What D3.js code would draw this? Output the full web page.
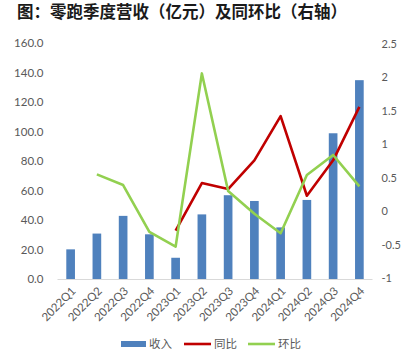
<!DOCTYPE html>
<html><head><meta charset="utf-8">
<script src="https://cdn.jsdelivr.net/npm/d3@7"></script>
<style>body{margin:0;background:#fff}</style>
</head><body>
<svg id="c" width="401" height="355"></svg>
<script>
const categories = ["2022Q1","2022Q2","2022Q3","2022Q4","2023Q1","2023Q2","2023Q3","2023Q4","2024Q1","2024Q2","2024Q3","2024Q4"];
const revenue = [20.1, 30.8, 42.8, 30.3, 14.4, 43.8, 56.8, 52.9, 35.0, 53.6, 98.8, 134.8];
const yoy = [null, null, null, null, -0.29, 0.42, 0.33, 0.76, 1.42, 0.23, 0.76, 1.56];
const qoq = [null, 0.55, 0.39, -0.31, -0.53, 2.06, 0.30, -0.04, -0.33, 0.54, 0.84, 0.37];
const leftTicks = [0,20,40,60,80,100,120,140,160];
const rightTicks = [-1,-0.5,0,0.5,1,1.5,2,2.5];
const legendLabels = ["收入","同比","环比"];

const svg = d3.select("#c");
const font = "'Noto Sans CJK SC', 'Noto Sans', sans-serif";
const tickFont = "Lato, 'Liberation Sans', sans-serif";
const gray = "#595959";
const x0 = 57.5, x1 = 372.5, yTop = 43, yBot = 279;

svg.append("text").attr("x",17).attr("y",17.5).attr("font-family",font)
  .attr("font-size",16.5).attr("font-weight","bold").attr("fill","#1a1a1a")
  .text("图：零跑季度营收（亿元）及同环比（右轴）");

const x = d3.scaleBand().domain(categories).range([x0,x1]).paddingInner(0.67).paddingOuter(0.335);
const xc = d => x(d) + x.bandwidth()/2;
const yL = d3.scaleLinear().domain([0,160]).range([yBot,yTop]);
const yR = d3.scaleLinear().domain([-1,2.5]).range([yBot-1,yTop+1]);

// bars
svg.append("g").selectAll("rect").data(categories).join("rect")
  .attr("x", d=>x(d)).attr("width", x.bandwidth())
  .attr("y",(d,i)=>yL(revenue[i])).attr("height",(d,i)=>yBot-yL(revenue[i]))
  .attr("fill","#4F81BD");

// x axis line
svg.append("line").attr("x1",x0).attr("x2",x1).attr("y1",yBot+0.5).attr("y2",yBot+0.5)
  .attr("stroke","#D9D9D9").attr("stroke-width",1);

// left axis
const la = svg.append("g").attr("transform",`translate(${x0},0)`)
  .call(d3.axisLeft(yL).tickValues(leftTicks).tickFormat(d3.format(".1f")).tickSize(0).tickPadding(14));
la.select(".domain").remove();
la.selectAll("text").attr("font-family",tickFont).attr("font-size",11.5).attr("fill",gray);

// right axis
const ra = svg.append("g").attr("transform",`translate(${x1},0)`)
  .call(d3.axisRight(yR).tickValues(rightTicks).tickFormat(d=>String(d)).tickSize(0).tickPadding(9));
ra.select(".domain").remove();
ra.selectAll("text").attr("font-family",tickFont).attr("font-size",11).attr("fill",gray);

// x labels
svg.append("g").selectAll("text").data(categories).join("text")
  .attr("transform", d=>`translate(${xc(d)+3},${yBot+10}) rotate(-45)`)
  .attr("text-anchor","end").attr("dy","0.35em")
  .attr("font-family",tickFont).attr("font-size",11.5).attr("fill",gray)
  .text(d=>d);

// lines
const line = d3.line().defined(d=>d[1]!==null).x(d=>xc(d[0])).y(d=>yR(d[1]));
svg.append("path").datum(categories.map((c,i)=>[c,yoy[i]])).attr("d",line)
  .attr("fill","none").attr("stroke","#C00000").attr("stroke-width",2.6).attr("stroke-linejoin","round");
svg.append("path").datum(categories.map((c,i)=>[c,qoq[i]])).attr("d",line)
  .attr("fill","none").attr("stroke","#92D050").attr("stroke-width",2.6).attr("stroke-linejoin","round");

// legend
const lg = svg.append("g");
const ly = 344;
const items = [
  {x:121, type:"rect", color:"#4F81BD"},
  {x:184, type:"line", color:"#C00000"},
  {x:248, type:"line", color:"#92D050"}
];
items.forEach((it,i)=>{
  if(it.type==="rect") lg.append("rect").attr("x",it.x).attr("y",ly-3).attr("width",25).attr("height",6).attr("fill",it.color);
  else lg.append("line").attr("x1",it.x).attr("x2",it.x+27).attr("y1",ly).attr("y2",ly).attr("stroke",it.color).attr("stroke-width",2.6);
  lg.append("text").attr("x",it.x+(it.type==="rect"?28:30)).attr("y",ly).attr("dy","0.35em")
    .attr("font-family",font).attr("font-size",11.5).attr("fill",gray).text(legendLabels[i]);
});
</script>
</body></html>
